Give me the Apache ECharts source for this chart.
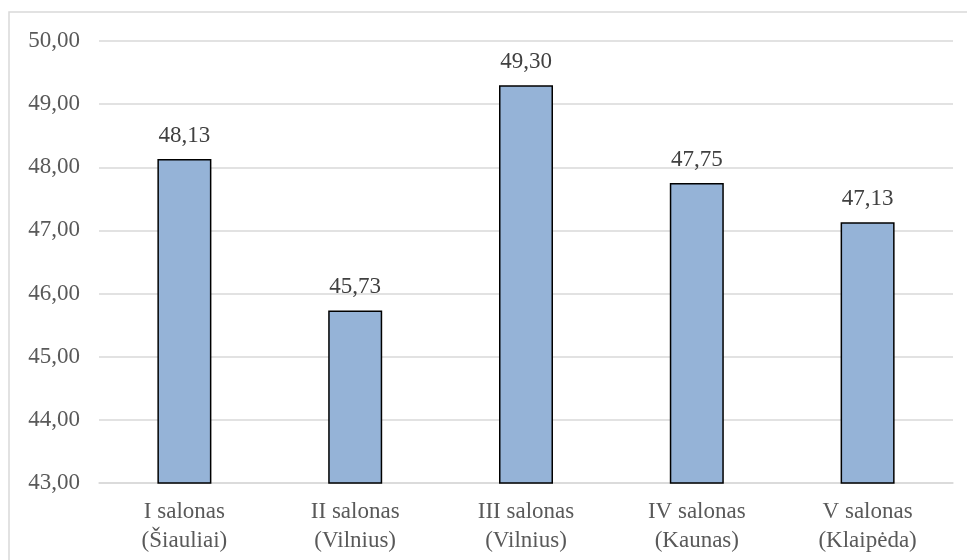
<!DOCTYPE html>
<html>
<head>
<meta charset="utf-8">
<script src="https://cdn.jsdelivr.net/npm/echarts@6/dist/echarts.min.js"></script>
<style>
  html, body { margin: 0; padding: 0; background: #ffffff; }
  #chart { width: 967px; height: 560px; }
</style>
</head>
<body>
<div id="chart"></div>
<script>
// Salon names (two-line labels)
const categories = [
  'I salonas\n(Šiauliai)',
  'II salonas\n(Vilnius)',
  'III salonas\n(Vilnius)',
  'IV salonas\n(Kaunas)',
  'V salonas\n(Klaipėda)'
];
// Average value per salon
const values = [48.13, 45.73, 49.30, 47.75, 47.13];
// Value axis range
const axisMin = 43;
const axisMax = 50;
const axisStep = 1;

const fmt = v => v.toFixed(2).replace('.', ',');
const fontFamily = '"Liberation Serif", "Times New Roman", serif';

const chart = echarts.init(document.getElementById('chart'), null, { renderer: 'canvas' });
chart.setOption({
  animation: false,
  backgroundColor: '#ffffff',
  graphic: [{
    type: 'rect',
    shape: { x: 9, y: 12, width: 975, height: 600 },
    style: { fill: 'none', stroke: '#d9d9d9', lineWidth: 1.5 },
    z: -1
  }],
  grid: { left: 99, right: 14, top: 41, bottom: 77 },
  xAxis: {
    type: 'category',
    data: categories,
    axisTick: { show: false },
    axisLine: { lineStyle: { color: '#d9d9d9', width: 1.5 } },
    axisLabel: {
      color: '#595959',
      fontFamily: fontFamily,
      fontSize: 23,
      lineHeight: 29,
      margin: 14,
      interval: 0
    }
  },
  yAxis: {
    type: 'value',
    min: axisMin,
    max: axisMax,
    interval: axisStep,
    axisLine: { show: false },
    axisTick: { show: false },
    splitLine: { lineStyle: { color: '#d9d9d9', width: 1.5 } },
    axisLabel: {
      color: '#595959',
      fontFamily: fontFamily,
      fontSize: 23,
      margin: 19,
      formatter: v => fmt(v)
    }
  },
  series: [{
    type: 'bar',
    data: values,
    barWidth: 54,
    itemStyle: { color: '#95b3d7', borderColor: '#000000', borderWidth: 1.5 },
    label: {
      show: true,
      position: 'top',
      distance: 12,
      color: '#404040',
      fontFamily: fontFamily,
      fontSize: 23,
      formatter: p => fmt(p.value)
    }
  }]
});
</script>
</body>
</html>
